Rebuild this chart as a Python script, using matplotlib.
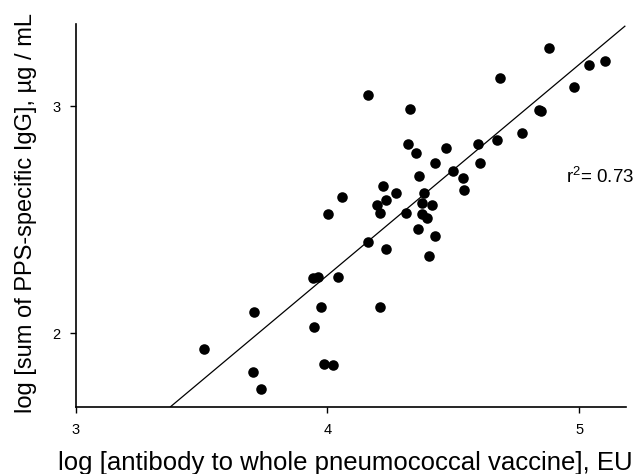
import numpy as np
import matplotlib
matplotlib.use("Agg")
import matplotlib.pyplot as plt

plt.rcParams['font.family'] = ['Liberation Sans', 'DejaVu Sans']
plt.rcParams['mathtext.fontset'] = 'custom'
plt.rcParams['mathtext.rm'] = 'Liberation Sans'
plt.rcParams['mathtext.it'] = 'Liberation Sans'

log_whole_vaccine = [4.162, 4.329, 4.878, 4.685, 5.039, 5.102, 4.980, 4.841, 4.848,
                     4.774, 4.672, 4.599, 4.604, 4.318, 4.351, 4.471, 4.428, 4.499,
                     4.539, 4.542, 4.364, 4.383, 4.221, 4.271, 4.232, 4.197, 4.059,
                     4.374, 4.414, 4.311, 4.210, 4.374, 4.397, 4.001, 4.359, 4.426,
                     4.162, 4.231, 4.405, 3.942, 3.963, 4.043, 3.973, 4.207, 3.947,
                     3.709, 3.508, 3.706, 3.737, 3.987, 4.023]
log_pps_igg = [3.047, 2.989, 3.257, 3.125, 3.183, 3.199, 3.084, 2.985, 2.978,
               2.883, 2.849, 2.834, 2.752, 2.833, 2.792, 2.814, 2.748, 2.714,
               2.682, 2.630, 2.693, 2.619, 2.648, 2.616, 2.586, 2.567, 2.600,
               2.572, 2.567, 2.531, 2.528, 2.526, 2.506, 2.526, 2.458, 2.429,
               2.400, 2.373, 2.339, 2.243, 2.248, 2.250, 2.117, 2.117, 2.026,
               2.092, 1.931, 1.829, 1.757, 1.865, 1.861]

# Regressionsgerade
fit_slope = 0.9285
fit_intercept = -1.4585
fit_x = [3.377, 5.181]
r2_text = "r$^2$= 0.73"

fig = plt.figure(figsize=(6.41, 4.74), dpi=100)
ax = fig.add_axes([0.118, 0.142, 0.858, 0.807])

ax.plot(log_whole_vaccine, log_pps_igg, 'o', color='black', markersize=7.6,
        markeredgewidth=0, zorder=3)
fx = np.array(fit_x)
ax.plot(fx, fit_slope * fx + fit_intercept, color='black', linewidth=0.9)

ax.set_xlim(3, 5.184)
ax.set_ylim(1.677, 3.361)
ax.set_xticks([3, 4, 5])
ax.set_yticks([2, 3])
ax.spines['top'].set_visible(False)
ax.spines['right'].set_visible(False)
ax.spines['left'].set_linewidth(1.2)
ax.spines['bottom'].set_linewidth(1.2)
ax.tick_params(axis='x', direction='out', length=4, width=1, pad=8, labelsize=10.5)
ax.tick_params(axis='y', direction='out', length=4, width=1, pad=7, labelsize=10.5)

ax.text(4.947, 2.689, r2_text, fontsize=13.5, va='center', ha='left', clip_on=False)

ax.set_xlabel('log [antibody to whole pneumococcal vaccine], EU', fontsize=18.5, va='center')
ax.xaxis.set_label_coords(0.491, -0.147)
ax.set_ylabel('log [sum of PPS-specific IgG], µg / mL', fontsize=17, va='center')
ax.yaxis.set_label_coords(-0.090, 0.507)

fig.savefig("out.png", dpi=100)
